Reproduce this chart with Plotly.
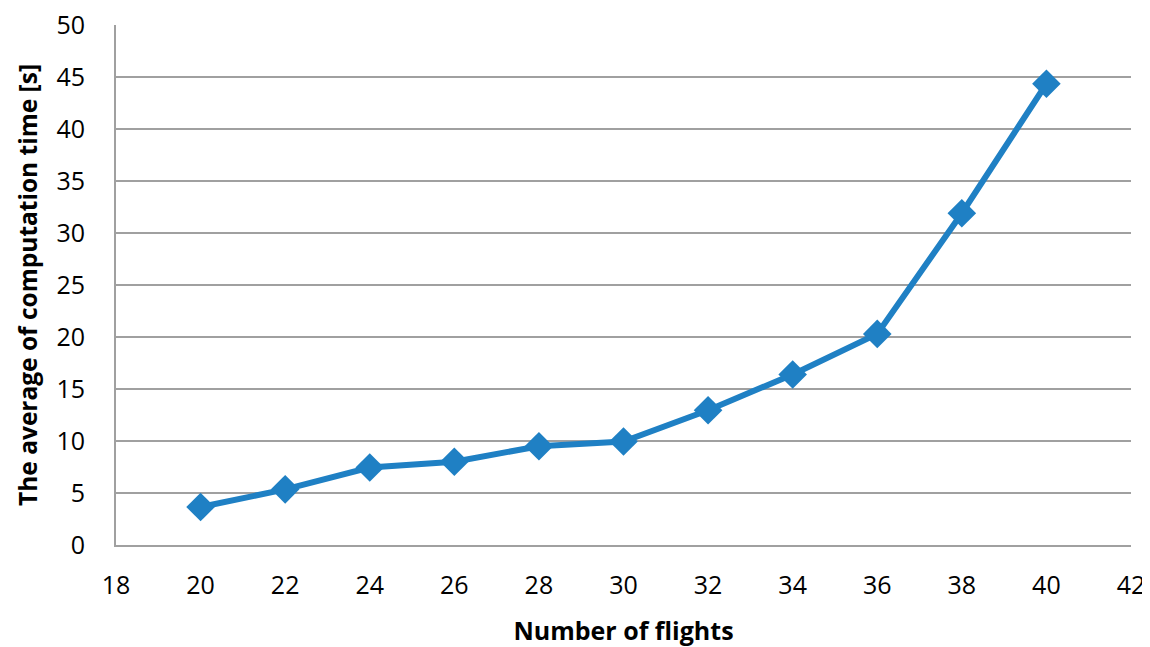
import plotly.graph_objects as go

flights = [20, 22, 24, 26, 28, 30, 32, 34, 36, 38, 40]
avg_time = [3.65, 5.35, 7.45, 8.0, 9.5, 9.95, 12.95, 16.4, 20.3, 31.9, 44.35]

x_ticks = [18, 20, 22, 24, 26, 28, 30, 32, 34, 36, 38, 40, 42]
y_ticks = [0, 5, 10, 15, 20, 25, 30, 35, 40, 45, 50]

fig = go.Figure()
fig.add_trace(go.Scatter(
    x=flights, y=avg_time, mode="lines+markers",
    line=dict(color="#1f80c4", width=6),
    marker=dict(symbol="diamond", size=22, color="#1f80c4"),
    showlegend=False,
))

font_family = "'Open Sans', sans-serif"
# page body has an 8px margin; figure sized so it fits in the 1150x647 window
fig.update_layout(
    width=1142, height=639,
    margin=dict(l=108, r=19, t=17, b=102),
    paper_bgcolor="white", plot_bgcolor="white",
    font=dict(family=font_family, size=25, color="black"),
)
fig.update_xaxes(
    range=[18, 42], tickvals=x_ticks, showgrid=False,
    showline=True, linecolor="#a0a0a0", linewidth=2,
    ticks="", ticklabelstandoff=17, automargin=False,
    ticklabeloverflow="allow",
    title=dict(text="<b>Number of flights</b>", font=dict(size=25), standoff=24),
    zeroline=False,
)
fig.update_yaxes(
    range=[0, 50], tickvals=y_ticks, showgrid=True,
    gridcolor="#a0a0a0", gridwidth=1.5,
    showline=True, linecolor="#a0a0a0", linewidth=2,
    ticks="", ticklabelstandoff=24, automargin=False,
    ticklabeloverflow="allow",
    title=dict(text="<b>The average of computation time [s]</b>", font=dict(size=24.5), standoff=12),
    zeroline=False,
)
fig.write_html("out.html")
